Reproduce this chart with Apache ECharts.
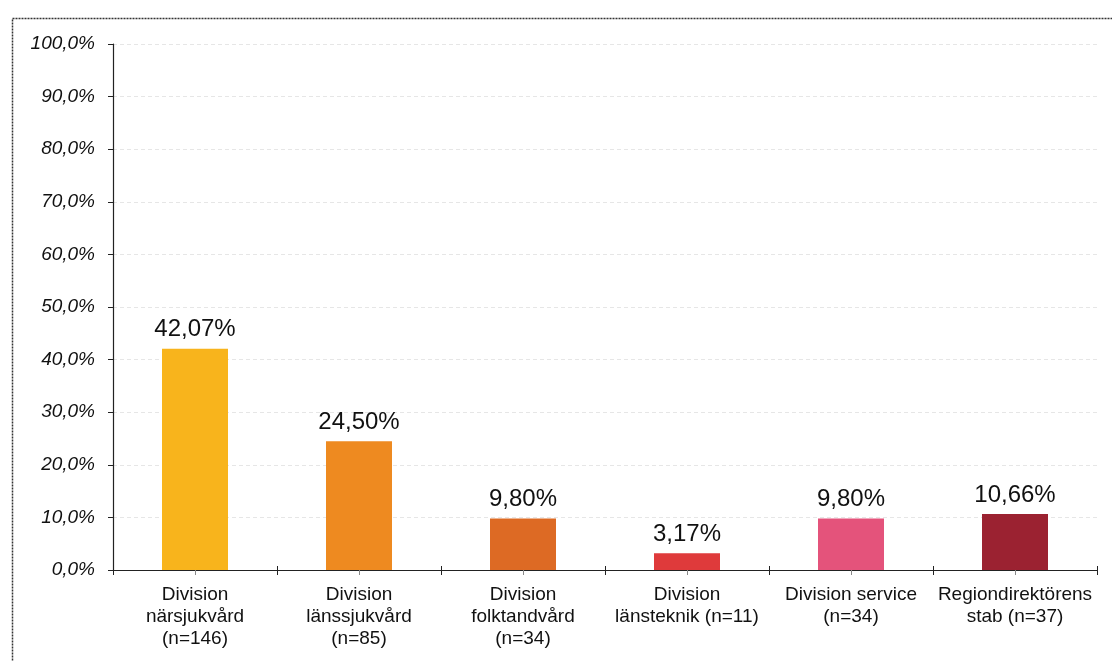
<!DOCTYPE html>
<html><head><meta charset="utf-8">
<script src="https://cdn.jsdelivr.net/npm/echarts@6/dist/echarts.min.js"></script>
<style>html,body{margin:0;padding:0;background:#fff}#c{width:1112px;height:661px}</style>
</head><body><div id="c"></div>
<script>
const categories = ["Division\nnärsjukvård\n(n=146)", "Division\nlänssjukvård\n(n=85)", "Division\nfolktandvård\n(n=34)", "Division\nlänsteknik (n=11)", "Division service\n(n=34)", "Regiondirektörens\nstab (n=37)"];
const values = [42.07, 24.50, 9.80, 3.17, 9.80, 10.66];
const barColors = ["#F8B41C", "#EE8A20", "#DD6A24", "#DF3A3B", "#E4537B", "#9B2231"];
const yTicks = [0, 10, 20, 30, 40, 50, 60, 70, 80, 90, 100];

const fmt = (v, d) => v.toFixed(d).replace('.', ',') + '%';
const chart = echarts.init(document.getElementById('c'), null, {renderer: 'canvas'});
chart.setOption({
  animation: false,
  backgroundColor: '#fff',
  graphic: [{
    type: 'rect', left: 10, top: 16, shape: {width: 1120, height: 680},
    style: {fill: 'none', stroke: '#333', lineWidth: 1.5, lineDash: [2, 1]}
  }],
  grid: {left: 113, right: 15, top: 44, bottom: 91},
  xAxis: [{
    type: 'category', data: categories,
    axisLine: {lineStyle: {color: '#222', width: 1.2}},
    axisTick: {show: true, length: 5, lineStyle: {color: '#222'}},
    axisLabel: {color: '#111', fontSize: 19, fontFamily: 'Liberation Sans, Arial', lineHeight: 22, margin: 14, interval: 0}
  }, {
    type: 'category', data: categories, position: 'bottom',
    axisLine: {show: false},
    axisTick: {show: true, inside: true, length: 4, lineStyle: {color: '#222'}},
    axisLabel: {show: false}
  }, {
    type: 'category', data: categories, position: 'bottom',
    axisLine: {show: false},
    axisTick: {show: true, alignWithLabel: true, length: 5, lineStyle: {color: '#888'}},
    axisLabel: {show: false}
  }],
  yAxis: {
    type: 'value', min: yTicks[0], max: yTicks[yTicks.length - 1], interval: 10,
    axisLine: {show: true, lineStyle: {color: '#222', width: 1.2}},
    axisTick: {show: true, length: 5, lineStyle: {color: '#222'}},
    axisLabel: {color: '#111', fontSize: 19, fontStyle: 'italic', fontFamily: 'Liberation Sans, Arial', margin: 18, formatter: v => fmt(v, 1)},
    splitLine: {show: true, lineStyle: {color: '#e6e6e6', type: [4, 3], width: 1}}
  },
  series: [{
    type: 'bar', xAxisIndex: 0, barWidth: 66,
    data: values.map((v, i) => ({value: v, itemStyle: {color: barColors[i]}})),
    label: {show: true, position: 'top', distance: 7, color: '#111', fontSize: 24, fontFamily: 'Liberation Sans, Arial', formatter: p => fmt(p.value, 2)}
  }]
});
</script></body></html>
